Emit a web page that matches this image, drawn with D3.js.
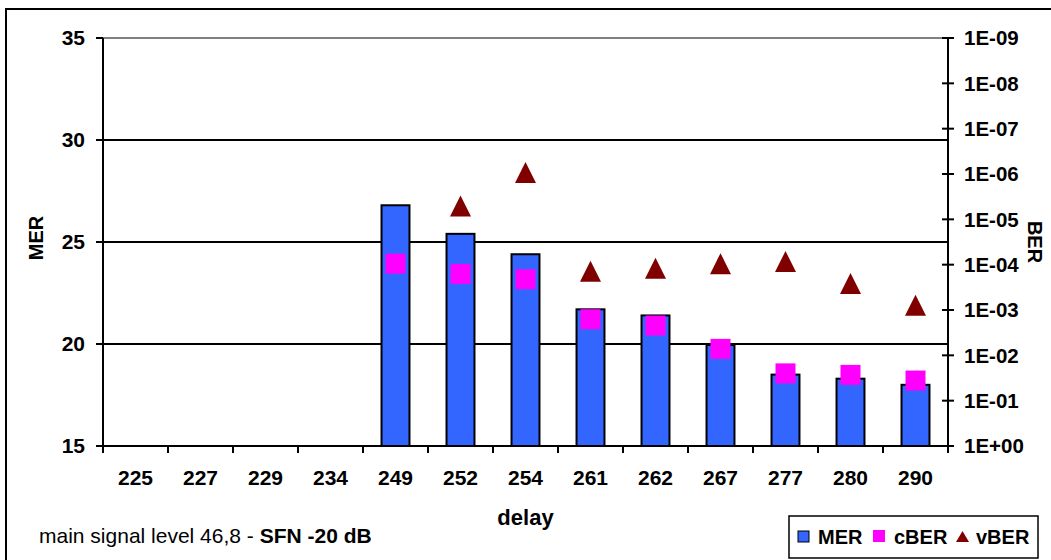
<!DOCTYPE html>
<html>
<head>
<meta charset="utf-8">
<script src="https://cdn.jsdelivr.net/npm/d3@7"></script>
<style>
  html, body { margin: 0; padding: 0; background: #fff; }
  svg { display: block; }
  text { font-family: "Liberation Sans", Arial, sans-serif; fill: #000; }
</style>
</head>
<body>
<svg id="chart" width="1051" height="560"></svg>
<script>
// ---- data ----
const categories = ["225","227","229","234","249","252","254","261","262","267","277","280","290"];
const merValues  = [null,null,null,null,26.8,25.4,24.4,21.7,21.4,19.95,18.5,18.3,18.0];
const cBerValues = [null,null,null,null,9.5e-5,1.6e-4,2.1e-4,1.6e-3,2.2e-3,7.2e-3,2.5e-2,2.7e-2,3.6e-2];
const vBerValues = [null,null,null,null,null,5.1e-6,9.3e-7,1.4e-4,1.2e-4,9.5e-5,8.5e-5,2.6e-4,7.9e-4];
const merTicks   = [15,20,25,30,35];
const berTicks   = [1,1e-1,1e-2,1e-3,1e-4,1e-5,1e-6,1e-7,1e-8,1e-9];
const legendLabels = ["MER","cBER","vBER"];
const footnoteNormal = "main signal level 46,8 - ";
const footnoteBold = "SFN -20 dB";

// ---- layout ----
const svg = d3.select("#chart");
const L = 103, R = 948, T = 38, B = 446;
const FONT = 21;

const x = d3.scaleBand().domain(categories).range([L, R]).padding(0);
const yL = d3.scaleLinear().domain([15, 35]).range([B, T]);
const yR = d3.scaleLog().domain([1, 1e-9]).range([B, T]);

// outer chart border
svg.append("rect").attr("x", 6).attr("y", 9).attr("width", 1050).attr("height", 560)
  .attr("fill", "#fff").attr("stroke", "#000").attr("stroke-width", 2);

// gridlines
svg.append("g").selectAll("line").data(merTicks.filter(d => d > 15)).join("line")
  .attr("x1", L).attr("x2", R)
  .attr("y1", d => yL(d)).attr("y2", d => yL(d))
  .attr("stroke", d => d === 35 ? "#808080" : "#000")
  .attr("stroke-width", 2);

// bars
const bw = x.bandwidth() * 0.43;
const barData = categories.map((c, i) => ({c, v: merValues[i]})).filter(d => d.v != null);
svg.append("g").selectAll("rect").data(barData).join("rect")
  .attr("x", d => x(d.c) + x.bandwidth()/2 - bw/2)
  .attr("width", bw)
  .attr("y", d => yL(d.v))
  .attr("height", d => yL(15) - yL(d.v))
  .attr("fill", "#3366FF").attr("stroke", "#000").attr("stroke-width", 2);

// cBER squares
const sq = 20;
const cData = categories.map((c, i) => ({c, v: cBerValues[i]})).filter(d => d.v != null);
svg.append("g").selectAll("rect").data(cData).join("rect")
  .attr("x", d => x(d.c) + x.bandwidth()/2 - sq/2)
  .attr("y", d => yR(d.v) - sq/2)
  .attr("width", sq).attr("height", sq)
  .attr("fill", "#FF00FF");

// vBER triangles
const tw = 21, th = 21;
const vData = categories.map((c, i) => ({c, v: vBerValues[i]})).filter(d => d.v != null);
svg.append("g").selectAll("path").data(vData).join("path")
  .attr("d", d => {
    const cx = x(d.c) + x.bandwidth()/2, cy = yR(d.v);
    return `M${cx},${cy - th/2}L${cx + tw/2},${cy + th/2}L${cx - tw/2},${cy + th/2}Z`;
  })
  .attr("fill", "#800000");

// axes lines
svg.append("line").attr("x1", L).attr("x2", L).attr("y1", T).attr("y2", B)
  .attr("stroke", "#000").attr("stroke-width", 2);
svg.append("line").attr("x1", R).attr("x2", R).attr("y1", T).attr("y2", B)
  .attr("stroke", "#000").attr("stroke-width", 2);
svg.append("line").attr("x1", L).attr("x2", R).attr("y1", B).attr("y2", B)
  .attr("stroke", "#000").attr("stroke-width", 2);

// left ticks & labels
const gl = svg.append("g");
gl.selectAll("line").data(merTicks).join("line")
  .attr("x1", L - 7).attr("x2", L).attr("y1", d => yL(d)).attr("y2", d => yL(d))
  .attr("stroke", "#000").attr("stroke-width", 2);
gl.selectAll("text").data(merTicks).join("text")
  .attr("x", L - 18).attr("y", d => yL(d)).attr("dy", "0.35em")
  .attr("text-anchor", "end").attr("font-size", FONT).attr("font-weight", "bold")
  .text(d => d);

// right ticks & labels
const fmtBer = d => {
  const e = Math.round(Math.log10(d));
  return e === 0 ? "1E+00" : "1E-" + String(-e).padStart(2, "0");
};
const gr = svg.append("g");
gr.selectAll("line").data(berTicks).join("line")
  .attr("x1", R - 6).attr("x2", R + 6).attr("y1", d => yR(d)).attr("y2", d => yR(d))
  .attr("stroke", "#000").attr("stroke-width", 2);
gr.selectAll("text").data(berTicks).join("text")
  .attr("x", R + 16).attr("y", d => yR(d)).attr("dy", "0.35em")
  .attr("font-size", 20.5).attr("font-weight", "bold")
  .text(fmtBer);

// bottom ticks & labels
const gb = svg.append("g");
const bounds = categories.map(c => x(c)).concat([R]);
gb.selectAll("line").data(bounds).join("line")
  .attr("x1", d => d).attr("x2", d => d).attr("y1", B).attr("y2", B + 7)
  .attr("stroke", "#000").attr("stroke-width", 2);
gb.selectAll("text").data(categories).join("text")
  .attr("x", d => x(d) + x.bandwidth()/2).attr("y", 485)
  .attr("text-anchor", "middle").attr("font-size", FONT).attr("font-weight", "bold")
  .text(d => d);

// axis titles
svg.append("text").attr("x", (L + R)/2).attr("y", 525)
  .attr("text-anchor", "middle").attr("font-size", 22).attr("font-weight", "bold")
  .text("delay");
svg.append("text").attr("transform", `translate(43,${(T + B)/2 - 4}) rotate(-90)`)
  .attr("text-anchor", "middle").attr("font-size", 20).attr("font-weight", "bold")
  .text("MER");
svg.append("text").attr("transform", `translate(1028,${(T + B)/2}) rotate(90)`)
  .attr("text-anchor", "middle").attr("font-size", 20).attr("font-weight", "bold")
  .text("BER");

// footnote
const fn = svg.append("text").attr("x", 39).attr("y", 543).attr("font-size", FONT);
fn.append("tspan").text(footnoteNormal);
fn.append("tspan").attr("font-weight", "bold").text(footnoteBold);

// legend
const lg = svg.append("g");
lg.append("rect").attr("x", 789).attr("y", 516).attr("width", 249).attr("height", 42)
  .attr("fill", "#fff").attr("stroke", "#000").attr("stroke-width", 1.5);
lg.append("rect").attr("x", 798).attr("y", 531).attr("width", 11).attr("height", 11)
  .attr("fill", "#3366FF").attr("stroke", "#000").attr("stroke-width", 1);
lg.append("text").attr("x", 818).attr("y", 544).attr("font-size", 20).attr("font-weight", "bold").text(legendLabels[0]);
lg.append("rect").attr("x", 873).attr("y", 530).attr("width", 12).attr("height", 12)
  .attr("fill", "#FF00FF");
lg.append("text").attr("x", 894).attr("y", 544).attr("font-size", 20).attr("font-weight", "bold").text(legendLabels[1]);
lg.append("path").attr("d", "M962.5,531L969,542L956,542Z").attr("fill", "#800000");
lg.append("text").attr("x", 976).attr("y", 544).attr("font-size", 20).attr("font-weight", "bold").text(legendLabels[2]);
</script>
</body>
</html>
